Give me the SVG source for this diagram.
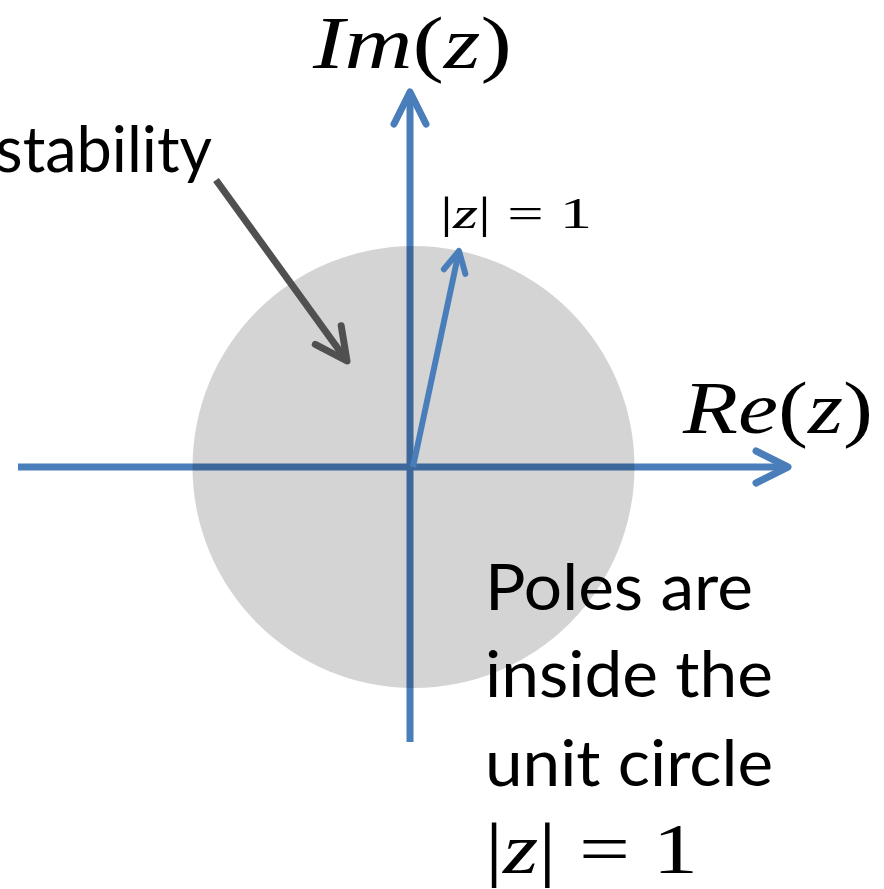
<svg xmlns="http://www.w3.org/2000/svg" width="884" height="889" viewBox="0 0 884 889">
<style>
.ax{stroke:#4a7ebb;stroke-width:7;fill:none;stroke-linecap:butt}
.vec{stroke:#4a7ebb;stroke-width:6;fill:none}
.ptr{stroke:#505050;stroke-width:7;fill:none}
.lbl{font-family:Lato,"Open Sans",sans-serif;font-size:63px;fill:#000}
.math{font-family:"Liberation Serif","DejaVu Serif",serif;fill:#000}
.it{font-style:italic}
</style>
<defs>
<marker id="hb" markerUnits="userSpaceOnUse" orient="auto" overflow="visible" markerWidth="1" markerHeight="1">
<path d="M-32,-16 L0,0 L-32,16" fill="none" stroke="#4a7ebb" stroke-width="7" stroke-linecap="round" stroke-linejoin="round"/>
</marker>
<marker id="hs" markerUnits="userSpaceOnUse" orient="auto" overflow="visible" markerWidth="1" markerHeight="1">
<path d="M-21,-11 L0,0 L-21,11" fill="none" stroke="#4a7ebb" stroke-width="6" stroke-linecap="round" stroke-linejoin="round"/>
</marker>
<marker id="hg" markerUnits="userSpaceOnUse" orient="auto" overflow="visible" markerWidth="1" markerHeight="1">
<path d="M-32,-16 L0,0 L-32,16" fill="none" stroke="#505050" stroke-width="7" stroke-linecap="round" stroke-linejoin="round"/>
</marker>
</defs>
<g id="axes">
<line class="ax" x1="410" y1="742" x2="410" y2="92" marker-end="url(#hb)"/>
<line class="ax" x1="18" y1="467" x2="788" y2="467" marker-end="url(#hb)"/>
</g>
<circle id="unit-disk" cx="413.5" cy="467" r="221" fill="#000" fill-opacity="0.17"/>
<g id="connectors">
<line class="vec" x1="413" y1="467" x2="459" y2="251" marker-end="url(#hs)"/>
<line class="ptr" x1="216" y1="180" x2="347" y2="361" marker-end="url(#hg)"/>
</g>
<g id="im-label">
<text class="math" x="313" y="68" font-size="74" textLength="199" lengthAdjust="spacingAndGlyphs"><tspan class="it">Im</tspan>(<tspan class="it">z</tspan>)</text>
</g>
<g id="re-label">
<text class="math" x="683" y="433" font-size="74" textLength="190" lengthAdjust="spacingAndGlyphs"><tspan class="it">Re</tspan>(<tspan class="it">z</tspan>)</text>
</g>
<g id="radius-label">
<text class="math" x="440" y="228" font-size="44" textLength="152" lengthAdjust="spacingAndGlyphs">|<tspan class="it">z</tspan>| = 1</text>
</g>
<g id="stability-label">
<text class="lbl" x="212" y="172" text-anchor="end">stability</text>
</g>
<g id="poles-label">
<text class="lbl" x="485" y="610" textLength="268" lengthAdjust="spacingAndGlyphs">Poles are</text>
<text class="lbl" x="485" y="697" textLength="288" lengthAdjust="spacingAndGlyphs">inside the</text>
<text class="lbl" x="485" y="786" textLength="288" lengthAdjust="spacingAndGlyphs">unit circle</text>
<text class="math" x="485" y="873" font-size="72" textLength="213" lengthAdjust="spacingAndGlyphs">|<tspan class="it">z</tspan>| = 1</text>
</g>
</svg>
